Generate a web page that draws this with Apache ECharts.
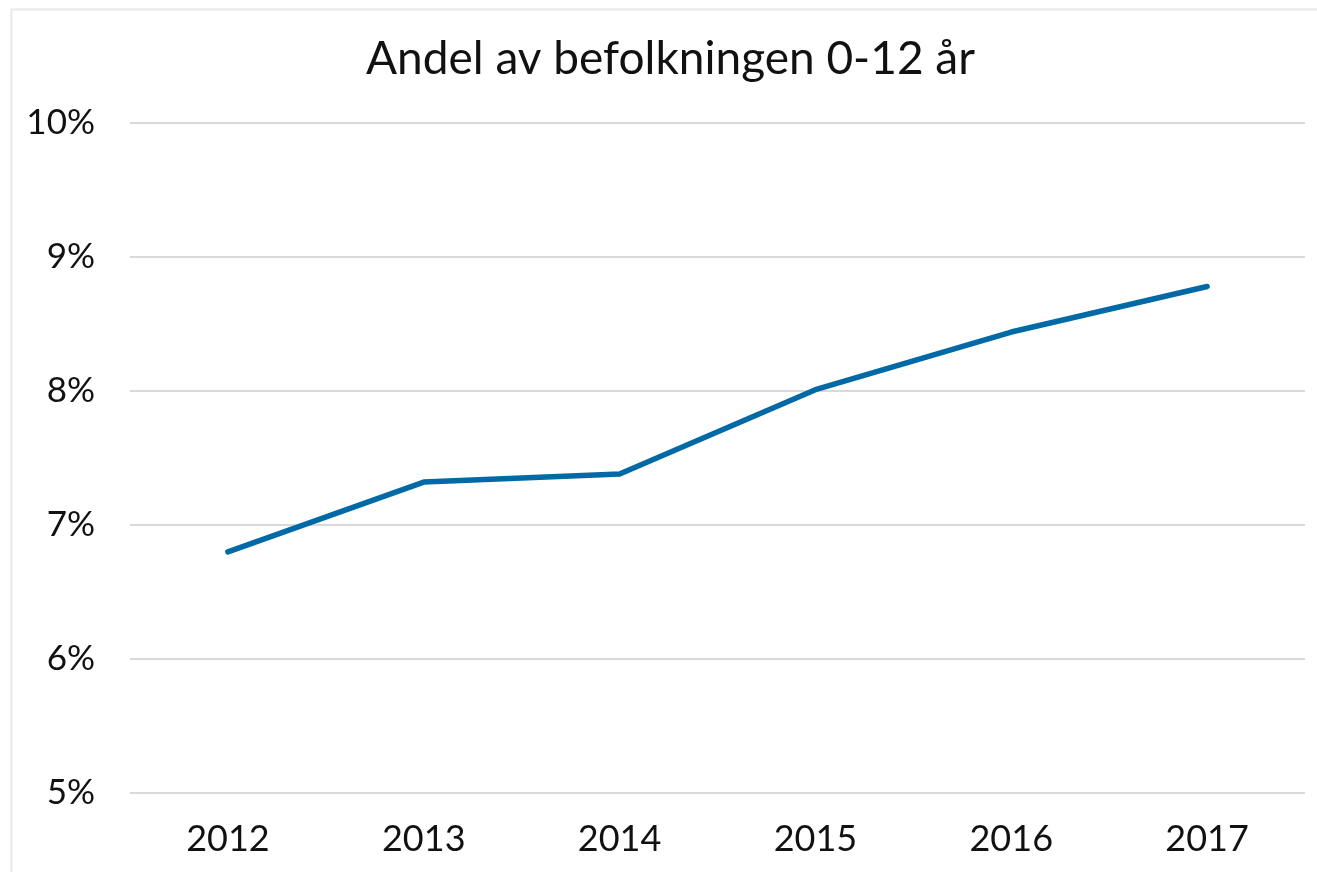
<!DOCTYPE html>
<html>
<head>
<meta charset="utf-8">
<script src="https://cdn.jsdelivr.net/npm/echarts@6/dist/echarts.min.js"></script>
<style>
    html, body { margin: 0; padding: 0; background: #fff; }
    #chart { width: 1317px; height: 872px; }
</style>
</head>
<body>
<div id="chart"></div>
<script>
// år och andel (%)
const years = ['2012', '2013', '2014', '2015', '2016', '2017'];
const andel = [6.80, 7.32, 7.38, 8.01, 8.44, 8.78];

const chart = echarts.init(document.getElementById('chart'));

const option = {
    backgroundColor: '#fff',
    textStyle: { fontFamily: 'Lato' },
    title: {
        text: 'Andel av befolkningen 0-12 år',
        left: 361,
        top: 31,
        textStyle: { fontFamily: 'Lato', fontSize: 46, fontWeight: 'normal', color: '#111' }
    },
    // ram runt diagrammet
    graphic: [{
        type: 'rect',
        shape: { x: 11.5, y: 9.5, width: 1320, height: 880 },
        style: { fill: 'none', stroke: '#e8e8e8', lineWidth: 2 },
        silent: true
    }],
    grid: { left: 130, right: 12, top: 123, bottom: 79 },
    xAxis: {
        type: 'category',
        data: years,
        boundaryGap: true,
        axisLine: { show: false },
        axisTick: { show: false },
        axisLabel: { fontSize: 36, color: '#111', margin: 28 }
    },
    yAxis: {
        type: 'value',
        min: 5,
        max: 10,
        interval: 1,
        axisLine: { show: false },
        axisTick: { show: false },
        axisLabel: { fontSize: 35, color: '#111', margin: 35, formatter: '{value}%' },
        splitLine: { lineStyle: { color: '#d9d9d9', width: 2 } }
    },
    series: [{
        type: 'line',
        data: andel,
        symbol: 'none',
        lineStyle: { color: '#0069a6', width: 5.5, cap: 'round', join: 'round' }
    }]
};

chart.setOption(option);
</script>
</body>
</html>
